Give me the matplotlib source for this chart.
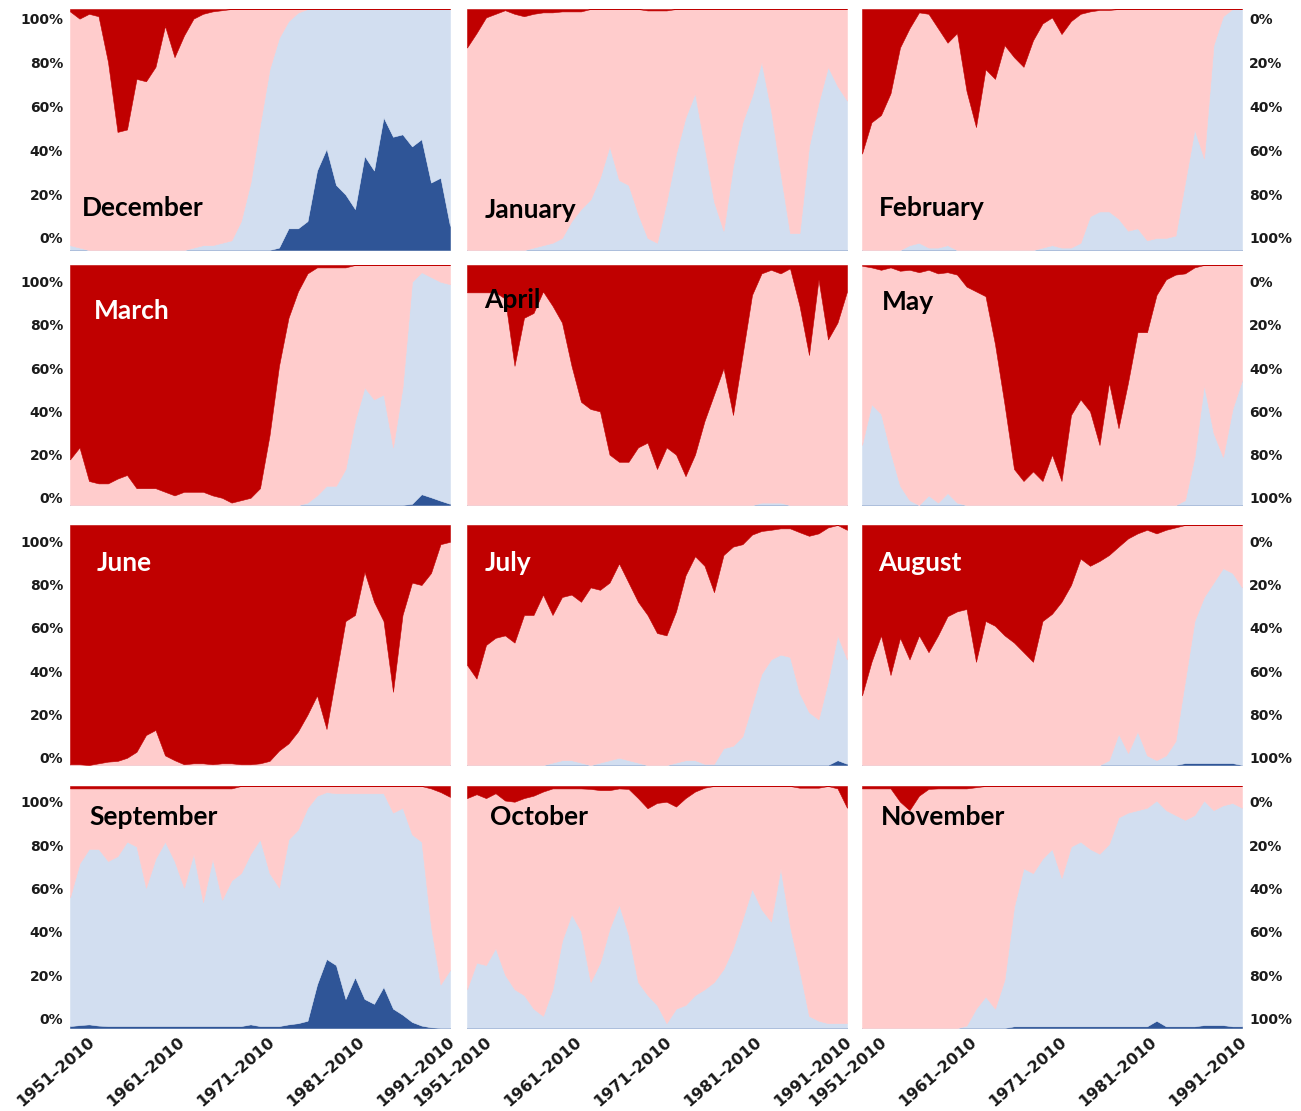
import numpy as np
import matplotlib
matplotlib.use("Agg")
import matplotlib.pyplot as plt
from matplotlib.transforms import ScaledTranslation, blended_transform_factory

# window start years (every window ends in 2010)
YEARS = np.arange(1951, 1992)
TICK_YEARS = [1951, 1961, 1971, 1981, 1991]
TICK_LABELS = [f"{y}\u20132010" for y in TICK_YEARS]
PCT_LABELS = ["0%", "20%", "40%", "60%", "80%", "100%"]

# cumulative levels (percent):
#   *_db = top of dark blue, *_lb = top of light blue, *_pk = top of pink, rest is dark red
dec_pk = [99, 96, 98, 97, 78, 49, 50, 71, 70, 76, 93, 80, 89, 96, 98, 99, 99.5] + [100] * 24
dec_lb = [2, 1] + [0] * 11 + [1, 2, 2, 3, 4, 12, 28, 52, 75, 88, 95, 98.5] + [100] * 16
dec_db = [0] * 22 + [1, 9, 9, 12, 33, 42, 27, 23, 17, 39, 33, 55, 47, 48, 43, 46, 28, 30, 10]

jan_pk = [84, 90, 96.5, 98, 99.5, 98, 97, 98, 98.6, 98.6, 99, 99, 99, 100, 100, 100, 100, 100, 100,
          99.4, 99.4, 99.4] + [100] * 19
jan_lb = [0] * 7 + [1, 2, 3, 5, 12, 17, 21, 30, 43, 29, 27, 15, 5, 3, 20, 40, 55, 65, 43, 20, 8, 35,
                    53, 64, 78, 58, 32, 7, 7, 43, 61, 76, 68, 62]
jan_db = [0] * 41

feb_pk = [40, 53, 56, 65, 84, 92, 98.6, 98, 92, 86, 90, 66, 51, 75, 71, 85, 80, 76, 87, 94, 96.5, 89.6,
          95, 98, 99, 99.6, 99.6] + [100] * 14
feb_lb = [0] * 5 + [2, 3, 1, 1, 2] + [0] * 9 + [1, 2, 1, 1, 3, 14, 16, 16, 13, 8, 9, 4, 5, 5, 6, 28, 50,
                                                 38, 85, 97, 100, 100]
feb_db = [0] * 41

mar_pk = [19, 24, 10, 9, 9, 11, 12.5, 7, 7, 7, 5.5, 4, 5.5, 5.5, 5.5, 4, 3, 1, 2, 3, 7, 29, 58, 78, 89,
          96.5, 99, 99, 99, 99] + [100] * 11
mar_lb = [0] * 25 + [1, 4, 8, 8, 15, 35, 49, 44, 46, 24, 49, 93, 97, 95, 93, 92]
mar_db = [0] * 36 + [0.5, 4.5, 3.2, 1.8, 0.5]

apr_pk = [88.6, 88.6, 88.6, 88.6, 86, 58, 78, 80, 89, 83, 76, 58, 43, 40, 39, 21, 18, 18, 24, 26, 15,
          24, 21, 12, 21, 35, 46, 57, 37.5, 62.5, 87.5, 96.5, 98, 96.5, 98.6, 83, 62.5, 94, 69, 76, 89]
apr_lb = [0] * 31 + [1, 1, 1] + [0] * 7
apr_db = [0] * 41

may_pk = [99.7, 99, 98, 99, 97.6, 98, 97, 98, 96.5, 97, 96, 91, 89, 87, 67, 42, 15, 10, 14, 10, 21,
          10, 37.5, 44, 39, 25, 51, 32, 51, 72, 72, 87.5, 94, 96, 96.5, 99, 100, 100, 100, 100, 100]
may_lb = [25, 42, 38, 22, 8, 2, 0, 4, 1, 5, 1] + [0] * 23 + [2, 20, 50, 30, 20, 40, 52]
may_db = [0] * 41

jun_pk = [0.3, 0.3, 0, 0.7, 1.4, 1.7, 3, 5.5, 12.5, 14.6, 4, 2, 0.3, 0.7, 0.7, 0.3, 0.7, 0.7, 0.3, 0.3,
          0.7, 1.7, 6, 9, 14, 21, 29, 15, 37.5, 60, 62.5, 80.5, 68, 60, 30.5, 62.5, 76, 75, 80, 92, 93]
jun_lb = [0] * 41
jun_db = [0] * 41

jul_pk = [41.7, 36, 50, 53, 54, 51, 62.5, 62.5, 71, 62.5, 70, 71, 68, 74, 73, 76, 84, 76, 68, 62.5,
          55, 54, 64, 79, 87, 83, 72, 87.5, 91, 92, 96, 97.5, 98, 98.6, 98.6, 97, 95.5, 96.5, 99, 100, 98]
jul_lb = [0] * 9 + [1, 2, 2, 1, 0, 1, 2, 3, 2, 1, 0, 0, 0, 1, 2, 2, 0.5, 0.5, 7, 8, 12, 25, 38, 44,
                    46, 45, 30, 22, 19, 35, 54, 44]
jul_db = [0] * 39 + [2, 0.5]

aug_pk = [29, 43, 54, 37.5, 53, 44, 54, 47, 54, 62, 64, 65, 43, 60, 58, 54, 51, 47, 43, 60, 63, 68, 75,
          86, 83, 85, 87.5, 91, 94.4, 96.5, 98, 96.5, 98, 99] + [100] * 7
aug_lb = [0] * 26 + [2, 13, 5, 14, 4, 2, 4, 10, 35, 60, 70, 76, 82, 80, 74]
aug_db = [0] * 34 + [0.8] * 6 + [0]

sep_pk = [99] * 18 + [100] * 20 + [99, 97.5, 95.5]
sep_lb = [54, 68, 74, 74, 69, 71, 77, 75, 58, 70, 77, 69, 58, 72, 52, 70, 53, 61, 64, 72, 78, 64, 58,
          78, 82, 91, 96, 97.5, 97, 97, 97, 97, 97, 97, 89, 91, 80, 77, 42, 18, 24]
sep_db = [0.8, 1.2, 1.5, 1] + [0.8] * 15 + [1.5, 0.8, 0.8, 0.8, 1.5, 2, 3, 18, 28.5, 26, 12, 21, 12,
                                            10, 17, 8, 5.5, 2.5, 1, 0.3, 0, 0]

oct_pk = [95, 96.6, 95, 97, 94, 93.5, 95, 96, 97.7, 99, 99, 99, 99, 98.8, 98.3, 98.3, 99, 98.8, 95,
          90.8, 93, 93.5, 91.5, 95, 97.7, 99.3, 100, 100, 100, 100, 100, 100, 100, 100, 100, 99.3,
          99.3, 99.3, 100, 99, 91]
oct_lb = [16, 27, 26, 33, 22, 16, 13.6, 8, 5, 16, 36, 47, 40, 19, 27, 41, 51, 38.5, 19, 13.6, 9.5, 2,
          8, 9.5, 13.6, 16, 19, 24.4, 33, 45, 57.5, 49, 44, 66, 42, 24, 5, 3, 2, 2, 2]
oct_db = [0] * 41

nov_pk = [99, 99, 99, 99, 93.5, 90, 96, 98.8, 99, 99, 99, 99, 99.5] + [100] * 28
nov_lb = [0] * 11 + [1, 8, 13, 8, 20, 50, 66, 64, 70, 74, 62, 75, 77, 74, 72, 76, 87, 89, 90, 91, 94,
                     90, 88, 86, 88, 94, 90, 92, 93, 91]
nov_db = [0] * 16 + [0.7] * 15 + [3] + [0.7] * 4 + [1.2, 1.2, 1.2, 0.7, 0.7]

MONTHS = ["December", "January", "February", "March", "April", "May",
          "June", "July", "August", "September", "October", "November"]
LEVELS = [(dec_db, dec_lb, dec_pk), (jan_db, jan_lb, jan_pk), (feb_db, feb_lb, feb_pk),
          (mar_db, mar_lb, mar_pk), (apr_db, apr_lb, apr_pk), (may_db, may_lb, may_pk),
          (jun_db, jun_lb, jun_pk), (jul_db, jul_lb, jul_pk), (aug_db, aug_lb, aug_pk),
          (sep_db, sep_lb, sep_pk), (oct_db, oct_lb, oct_pk), (nov_db, nov_lb, nov_pk)]
WHITE_TITLES = ["March", "June", "July", "August"]

COLORS = ["#2F5597", "#D2DEF0", "#FFCCCC", "#C00000"]

W, H = 1301, 1111
COL_X = [70, 467, 862]
PANEL_W = 380
ROW_Y = [(9, 250), (265, 505), (525, 765), (786, 1028)]
# where the 0% and 100% labels sit (fraction of panel height), per row
ROW_TICKS = [(0.05, 0.96), (0.03, 0.93), (0.03, 0.933), (0.04, 0.934)]
TITLE_POS = [(0.032, 0.174), (0.047, 0.166), (0.045, 0.174),
             (0.063, 0.81), (0.045, 0.854), (0.053, 0.846),
             (0.071, 0.842), (0.047, 0.842), (0.042, 0.842),
             (0.05, 0.872), (0.06, 0.872), (0.05, 0.872)]
# horizontal nudge (px) of the rotated year labels, they drift left along the axis
XLAB_DX = [18, 13, 8, 3, -2]

fig = plt.figure(figsize=(W / 100, H / 100), dpi=100)

for k, name in enumerate(MONTHS):
    r, c = divmod(k, 3)
    yt, yb = ROW_Y[r]
    ax = fig.add_axes([COL_X[c] / W, 1 - yb / H, PANEL_W / W, (yb - yt) / H])

    db, lb, pk = (np.array(v, dtype=float) for v in LEVELS[k])
    lb = np.maximum(lb, db)
    pk = np.maximum(pk, lb)
    shares = [db, lb - db, pk - lb, 100 - pk]
    ax.stackplot(YEARS, *shares, colors=COLORS, linewidth=0.4, edgecolor="face")

    ax.set_xlim(YEARS[0], YEARS[-1])
    ax.set_ylim(0, 100)
    for s in ax.spines.values():
        s.set_visible(False)
    ax.set_xticks([])

    lo, hi = ROW_TICKS[r]
    pos = [100 * (lo + (hi - lo) * i / 5) for i in range(6)]
    if c == 0:
        ax.set_yticks(pos)
        ax.set_yticklabels(PCT_LABELS)
    elif c == 2:
        ax.yaxis.tick_right()
        ax.set_yticks(pos)
        ax.set_yticklabels(PCT_LABELS[::-1])
    else:
        ax.set_yticks([])
    ax.tick_params(axis="y", length=0, pad=5)
    for lab in ax.get_yticklabels():
        lab.set_fontfamily("DejaVu Sans")
        lab.set_fontweight("bold")
        lab.set_fontsize(10)
        lab.set_color("#1a1a1a")

    tx, ty = TITLE_POS[k]
    ax.text(tx, ty, name, transform=ax.transAxes, fontsize=19, fontweight="bold",
            family="Lato", va="center", ha="left",
            color="white" if name in WHITE_TITLES else "black")

    if r == 3:
        base = blended_transform_factory(ax.transData, ax.transAxes)
        for yr, lab, dx in zip(TICK_YEARS, TICK_LABELS, XLAB_DX):
            trans = base + ScaledTranslation(dx / 100, -0.06, fig.dpi_scale_trans)
            ax.text(yr, 0, lab, transform=trans, rotation=41, ha="right", va="top",
                    rotation_mode="anchor", fontsize=11.5, fontweight="bold",
                    family="DejaVu Sans", color="#1a1a1a")

fig.savefig("out.png", dpi=100, facecolor="white")
